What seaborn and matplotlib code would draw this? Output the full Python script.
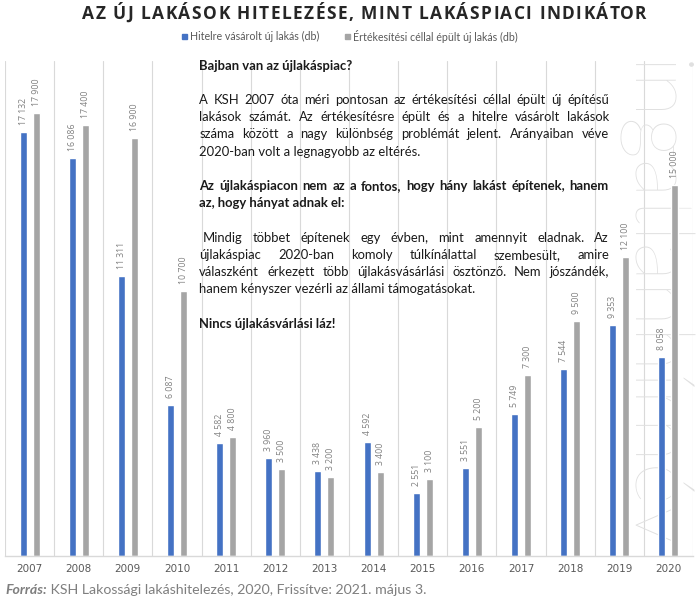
import matplotlib
matplotlib.use("Agg")
import matplotlib.pyplot as plt
from matplotlib.patches import Rectangle
import seaborn as sns
import pandas as pd

# ---------------- data ----------------
years = [str(y) for y in range(2007, 2021)]
hitel = [17132, 16086, 11311, 6087, 4582, 3960, 3438, 4592, 2551, 3551, 5749, 7544, 9353, 8058]
ertek = [17900, 17400, 16900, 10700, 4800, 3500, 3200, 3400, 3100, 5200, 7300, 9500, 12100, 15000]
series_names = ["Hitelre vásárolt új lakás (db)", "Értékesítési céllal épült új lakás (db)"]
colors = ["#4472C4", "#A5A5A5"]
title = "AZ ÚJ LAKÁSOK HITELEZÉSE, MINT LAKÁSPIACI INDIKÁTOR"
footer_bold = "Forrás:"
footer_rest = " KSH Lakossági lakáshitelezés, 2020, Frissítve: 2021. május 3."
watermark = "ingatlanhírnév"

# (text, bold, justify)
text_lines = [
    ("Bajban van az újlakáspiac?", True, False),
    ("", False, False),
    ("A KSH 2007 óta méri pontosan az értékesítési céllal épült új építésű", False, True),
    ("lakások számát. Az értékesítésre épült és a hitelre vásárolt lakások", False, True),
    ("száma között a nagy különbség problémát jelent. Arányaiban véve", False, True),
    ("2020-ban volt a legnagyobb az eltérés.", False, False),
    ("", False, False),
    ("Az újlakáspiacon nem az a fontos, hogy hány lakást építenek, hanem", True, True),
    ("az, hogy hányat adnak el:", True, False),
    ("", False, False),
    (" Mindig többet építenek egy évben, mint amennyit eladnak. Az", False, True),
    ("újlakáspiac 2020-ban komoly túlkínálattal szembesült, amire", False, True),
    ("válaszként érkezett több újlakásvásárlási ösztönző. Nem jószándék,", False, True),
    ("hanem kényszer vezérli az állami támogatásokat.", False, False),
    ("", False, False),
    ("Nincs újlakásvárlási láz!", True, False),
]

df = pd.DataFrame({
    "year": years * 2,
    "value": hitel + ertek,
    "series": [series_names[0]] * len(years) + [series_names[1]] * len(years),
})

W, H = 700, 602
sns.set_theme(style="white")
plt.rcParams["font.family"] = ["DejaVu Sans"]

fig = plt.figure(figsize=(W / 100, H / 100), dpi=100)
renderer = fig.canvas.get_renderer()

ax = fig.add_axes([5 / W, 1 - 556 / H, 688 / W, (556 - 61) / H])

sns.barplot(data=df, x="year", y="value", hue="series", palette=colors,
            width=0.53, gap=0.47, dodge=True, ax=ax, legend=False,
            saturation=1, zorder=2)

ax.set_xlim(-0.5, len(years) - 0.5)
ax.set_ylim(0, 20000)
for i in range(len(years) + 1):
    ax.axvline(i - 0.5, color="#d9d9d9", lw=0.8, zorder=0)
for s in ["left", "right", "top"]:
    ax.spines[s].set_visible(False)
ax.spines["bottom"].set_color("#d9d9d9")
ax.spines["bottom"].set_linewidth(1.0)
ax.set_yticks([])
ax.set_xlabel("")
ax.set_ylabel("")
ax.tick_params(axis="x", length=0, pad=6, labelsize=7.5, labelcolor="#595959")
for lab in ax.get_xticklabels():
    lab.set_fontfamily("DejaVu Sans")

def fmt(v):
    return f"{v:,}".replace(",", " ")

for cont, vals in zip(ax.containers, [hitel, ertek]):
    ax.bar_label(cont, labels=[fmt(v) for v in vals], rotation=90, padding=5,
                 fontsize=6.3, color="#808080", fontfamily="Open Sans")

# ---------------- helpers ----------------
def width_px(s, **kw):
    t = fig.text(0, 0, s, **kw)
    w = t.get_window_extent(renderer).width
    t.remove()
    return w

def adv(s, **kw):
    # advance width including spaces
    return width_px(s + "|", **kw) - width_px("|", **kw)

def fx(x):
    return x / W

def fy(y):
    return 1 - y / H

# watermark
wm_kw = dict(family="Lato", weight="light")
wm_size = 40 * 490 / width_px(watermark, fontsize=40, **wm_kw)
ax.text(fx(650), fy(306), watermark, transform=fig.transFigure, rotation=-90,
        ha="center", va="center", fontsize=wm_size, color="#e0e0e0",
        zorder=1, clip_on=False, **wm_kw)

# title with letter spacing
t_kw = dict(family="Open Sans", weight="bold", fontsize=12.5, color="#262626")
t_target = 564
t_total = width_px(title, **t_kw)
extra = (t_target - t_total) / (len(title) - 1)
x0 = 82
for i, ch in enumerate(title):
    if ch == " ":
        continue
    off = adv(title[:i], **t_kw) if i > 0 else 0
    fig.text(fx(x0 + off + i * extra), fy(18.8), ch, ha="left", va="baseline", **t_kw)

# legend
l_kw = dict(family="Lato", color="#595959")
l_size = 10 * 129 / width_px(series_names[0], fontsize=10, **l_kw)
for sx, tx, c, name in [(182, 190, colors[0], series_names[0]),
                        (345, 353, colors[1], series_names[1])]:
    fig.patches.append(Rectangle((fx(sx), fy(38.5)), 4.5 / W, 4.5 / H,
                                 transform=fig.transFigure, color=c, figure=fig))
    fig.text(fx(tx), fy(36.3), name, ha="left", va="center", fontsize=l_size, **l_kw)

# paragraph text
p_family = "Lato"
p_size = 10 * 221 / width_px("2020-ban volt a legnagyobb az eltérés.", fontsize=10, family=p_family)
left, right = 199.3, 609.0
base0, step = 69.5, 17.2
for k, (line, bold, just) in enumerate(text_lines):
    if not line:
        continue
    kw = dict(family=p_family, fontsize=p_size, color="#1a1a1a",
              weight="bold" if bold else "normal")
    yb = base0 + k * step
    if not just:
        fig.text(fx(left), fy(yb), line, ha="left", va="baseline", **kw)
        continue
    indent = adv(" ", **kw) if line.startswith(" ") else 0
    words = line.split()
    widths = [width_px(w_, **kw) for w_ in words]
    gap = (right - left - indent - sum(widths)) / (len(words) - 1)
    x = left + indent
    for w_, wd in zip(words, widths):
        fig.text(fx(x), fy(yb), w_, ha="left", va="baseline", **kw)
        x += wd + gap

# footer
f_kw = dict(family="Lato", color="#7f7f7f")
f_size = 10 * 422 / (width_px(footer_bold, fontsize=10, weight="bold", style="italic", **f_kw)
                     + adv(footer_rest, fontsize=10, **f_kw))
fig.text(fx(5), fy(594), footer_bold, ha="left", va="baseline", fontsize=f_size,
         weight="bold", style="italic", **f_kw)
bw = adv(footer_bold, fontsize=f_size, weight="bold", style="italic", **f_kw)
fig.text(fx(5 + bw), fy(594), footer_rest, ha="left", va="baseline", fontsize=f_size, **f_kw)

fig.savefig("out.png", dpi=100)
